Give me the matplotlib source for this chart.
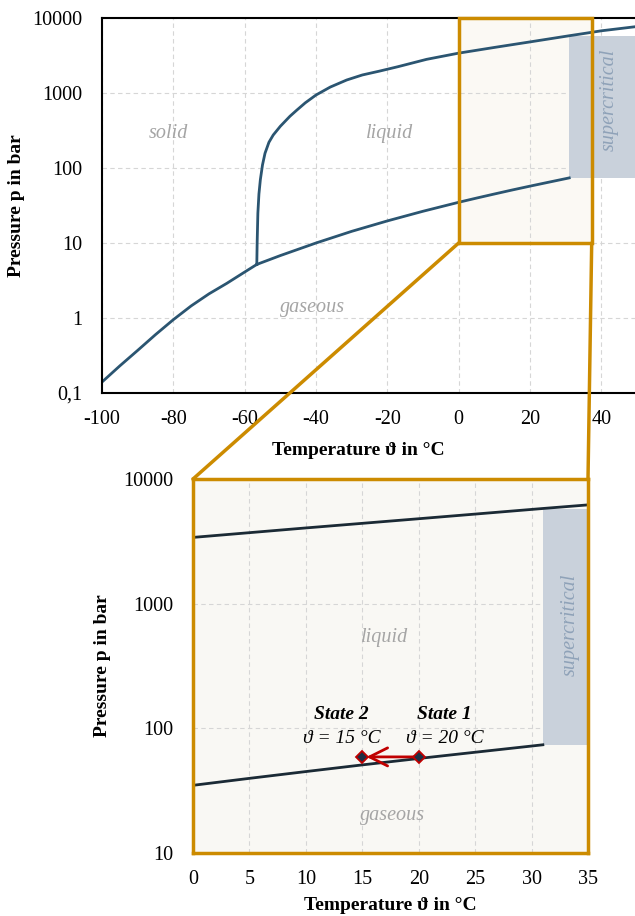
import matplotlib
matplotlib.use("Agg")
import matplotlib.pyplot as plt
from matplotlib.patches import Rectangle, ConnectionPatch, FancyArrowPatch

plt.rcParams["font.family"] = ["Liberation Serif", "DejaVu Serif"]
plt.rcParams["axes.unicode_minus"] = False

# CO2 phase boundaries (T in degC, p in bar)
subl_T = [-100, -95, -90, -85, -80, -75, -70, -65, -60, -56.6]
subl_p = [0.14, 0.23, 0.37, 0.6, 0.95, 1.45, 2.1, 2.9, 4.1, 5.18]

vap_T = [-56.6, -50, -40, -30, -20, -10, 0, 5, 10, 15, 20, 25, 30, 31]
vap_p = [5.18, 6.8, 10.0, 14.3, 19.7, 26.5, 34.9, 39.7, 45.0, 50.9, 57.3, 64.3, 72.1, 73.8]

melt_T = [-56.6, -56.5, -56.3, -56.0, -55.6, -55.0, -54.3, -53.2, -52.0, -50.0, -47.3,
          -45.4, -43.0, -40.0, -36.0, -31.4, -27.0, -22.1, -17.0, -9.0, 0, 10, 20, 31,
          35, 40, 50]
melt_p = [5.18, 10, 25, 45, 70, 110, 157, 220, 275, 360, 490,
          590, 740, 940, 1200, 1490, 1740, 1963, 2244, 2810, 3400, 4050, 4800, 5800,
          6200, 6750, 7700]

crit_T, crit_p, super_top = 31, 73.8, 5700

state_T = [20, 15]
state_p = [59, 59]
state_names = ["State 1", "State 2"]
state_texts = ["\u03d1 = 20 \u00b0C", "\u03d1 = 15 \u00b0C"]

top_xticks = [-100, -80, -60, -40, -20, 0, 20, 40]
top_yticks = [0.1, 1, 10, 100, 1000, 10000]
top_ylabels = ["0,1", "1", "10", "100", "1000", "10000"]
bot_xticks = [0, 5, 10, 15, 20, 25, 30, 35]
bot_yticks = [10, 100, 1000, 10000]
bot_ylabels = ["10", "100", "1000", "10000"]

orange = "#cc8b00"
curve_top = "#2b5571"
curve_bot = "#1b2a35"
gray_fill = "#c9d1db"
label_gray = "#a5a5a5"
super_col = "#8fa2b8"
grid_kw = dict(color="#d6d6d6", ls=(0, (4, 3)), lw=0.8)

fig = plt.figure(figsize=(6.35, 9.16), dpi=100)
W, H = 635, 916
ax1 = fig.add_axes([102 / W, (H - 393) / H, 535 / W, 375 / H])
ax2 = fig.add_axes([193 / W, (H - 853) / H, 395 / W, 374 / H])

# ---- overview diagram
ax1.set_yscale("log")
ax1.set_xlim(-100, 50)
ax1.set_ylim(0.1, 10000)
ax1.grid(True, **grid_kw)
ax1.add_patch(Rectangle((0, 10), 37.3, 10000 - 10, facecolor="#fbf9f4",
                        edgecolor="none", zorder=0.5))
ax1.add_patch(Rectangle((crit_T, crit_p), 50 - crit_T, super_top - crit_p,
                        facecolor=gray_fill, edgecolor="none", zorder=1.6))
ax1.add_patch(Rectangle((0, 10), 37.3, 10000 - 10, facecolor="none",
                        edgecolor=orange, lw=2.5, zorder=3, clip_on=False))
ax1.plot(subl_T, subl_p, color=curve_top, lw=2)
ax1.plot(vap_T, vap_p, color=curve_top, lw=2)
ax1.plot(melt_T, melt_p, color=curve_top, lw=2)
lab = dict(color=label_gray, style="italic", fontsize=14.5, ha="center", va="center")
ax1.text(-81.5, 290, "solid", **lab)
ax1.text(-19.3, 290, "liquid", **lab)
ax1.text(-41, 1.36, "gaseous", **lab)
ax1.text(42.3, 800, "supercritical", rotation=90, **{**lab, "color": super_col})
ax1.set_xticks(top_xticks)
ax1.set_yticks(top_yticks)
ax1.set_yticklabels(top_ylabels)
ax1.minorticks_off()
ax1.tick_params(length=0, labelsize=14.5, pad=12)
ax1.tick_params(axis="y", pad=14)
for s in ["left", "bottom", "top"]:
    ax1.spines[s].set_linewidth(1.5)
ax1.spines["right"].set_visible(False)
ax1.set_xlabel("Temperature \u03d1 in \u00b0C", fontsize=14, fontweight="bold")
ax1.xaxis.set_label_coords(0.48, -0.13)
ax1.set_ylabel("Pressure p in bar", fontsize=14, fontweight="bold")
ax1.yaxis.set_label_coords(-0.144, 0.5)

# ---- zoomed diagram
ax2.set_yscale("log")
ax2.set_xlim(0, 35)
ax2.set_ylim(10, 10000)
ax2.set_facecolor("#f9f8f4")
ax2.grid(True, **grid_kw)
ax2.add_patch(Rectangle((crit_T, crit_p), 35 - crit_T, super_top - crit_p,
                        facecolor=gray_fill, edgecolor="none", zorder=1.6))
ax2.plot(vap_T, vap_p, color=curve_bot, lw=2)
ax2.plot(melt_T, melt_p, color=curve_bot, lw=2)
ax2.text(17.0, 540, "liquid", **lab)
ax2.text(17.7, 20, "gaseous", **lab)
ax2.text(33.4, 680, "supercritical", rotation=90, **{**lab, "color": super_col})
ax2.add_patch(FancyArrowPatch((state_T[0], state_p[0]), (state_T[1], state_p[1]),
                              arrowstyle="->,head_length=13,head_width=6.5",
                              color="#c00000", lw=2, shrinkA=0, shrinkB=3, zorder=4))
ax2.plot(state_T, state_p, ls="none", marker="D", ms=6, mfc="#1d2f45",
         mec="#c00000", mew=1.3, zorder=5)
for t, name, txt in zip(state_T, state_names, state_texts):
    tx = t - 1.85 if t == 15 else t + 2.3
    ax2.text(tx, 128, name, fontsize=14, style="italic", fontweight="bold",
             ha="center", va="center")
    ax2.text(tx, 82.7, txt, fontsize=14, style="italic", ha="center", va="center")
ax2.set_xticks(bot_xticks)
ax2.set_yticks(bot_yticks)
ax2.set_yticklabels(bot_ylabels)
ax2.minorticks_off()
ax2.tick_params(length=0, labelsize=14.5, pad=12)
ax2.tick_params(axis="y", pad=14)
for s in ax2.spines.values():
    s.set_color(orange)
    s.set_linewidth(2.5)
ax2.set_xlabel("Temperature \u03d1 in \u00b0C", fontsize=14, fontweight="bold")
ax2.xaxis.set_label_coords(0.5, -0.117)
ax2.set_ylabel("Pressure p in bar", fontsize=14, fontweight="bold")
ax2.yaxis.set_label_coords(-0.208, 0.5)

# ---- zoom connectors
for (xa, ya), (xb, yb) in [((0, 10), (0, 10000)), ((37.3, 10), (35, 10000))]:
    con = ConnectionPatch(xyA=(xa, ya), coordsA=ax1.transData,
                          xyB=(xb, yb), coordsB=ax2.transData,
                          color=orange, lw=2.5)
    fig.add_artist(con)

fig.savefig("out.png", dpi=100)
